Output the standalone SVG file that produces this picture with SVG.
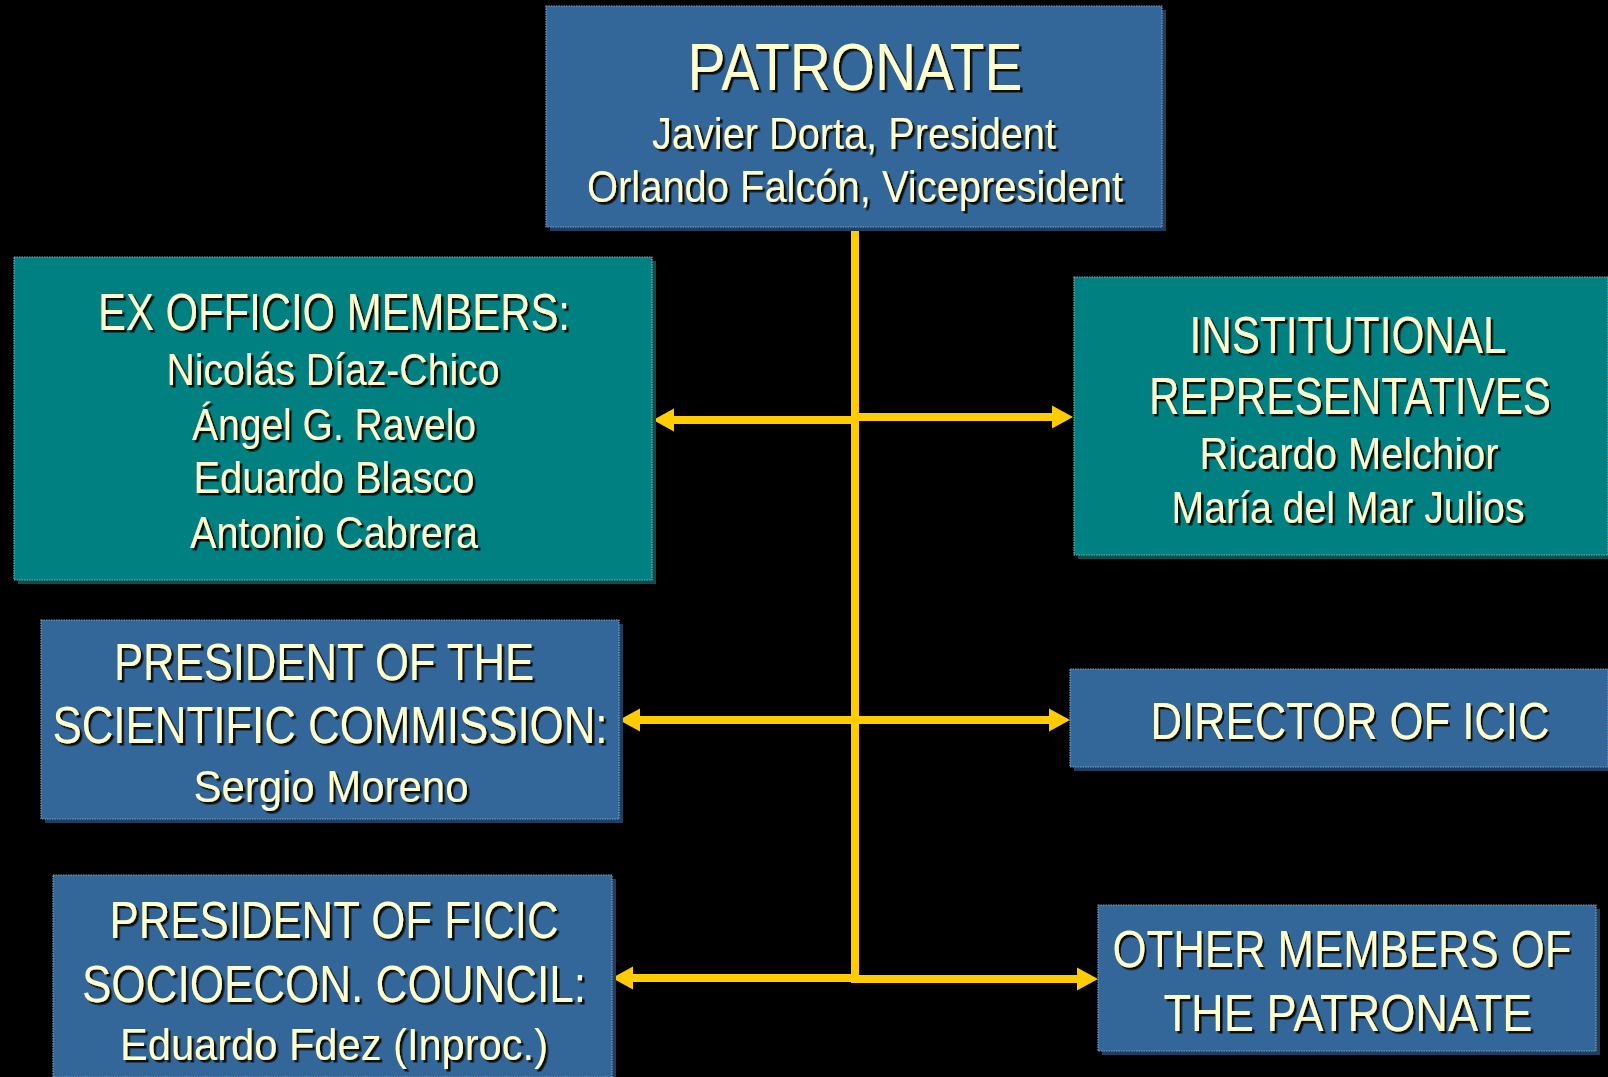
<svg xmlns="http://www.w3.org/2000/svg" width="1608" height="1077" viewBox="0 0 1608 1077">
<defs>
<style>
.bx-b{fill:#336699;stroke:#7f9fbf;stroke-width:1.2;stroke-dasharray:1.5 1}
.bx-t{fill:#008080;stroke:#7fb0b0;stroke-width:1.2;stroke-dasharray:1.5 1}
.sh-b{fill:#203f60}
.sh-t{fill:#0b4f4f}
text{font-family:"Liberation Sans Narrow","Liberation Sans",Arial,sans-serif;fill:#FFFFCC;text-anchor:middle;filter:url(#ts)}
.h{font-size:52px}
.n{font-size:45px}
.big{font-size:67px}
.ln{stroke:#FFCC00;stroke-width:8;fill:none}
</style>
<filter id="ts" x="-5%" y="-20%" width="110%" height="140%">
<feDropShadow dx="2.5" dy="2.5" stdDeviation="0.3" flood-color="#111111" flood-opacity="1"/>
</filter>
<marker id="ah" markerUnits="userSpaceOnUse" markerWidth="24" markerHeight="25" viewBox="0 0 24 25" refX="1" refY="12.5" orient="auto">
<path d="M0,1 L21,12.5 L0,24 z" fill="#FFCC00"/>
</marker>
</defs>
<rect width="1608" height="1077" fill="#000000"/>

<g id="connectors">
<line class="ln" x1="855" y1="227" x2="855" y2="982"/>
<line class="ln" x1="859" y1="420" x2="673" y2="420" marker-end="url(#ah)"/>
<line class="ln" x1="851" y1="417" x2="1053" y2="417" marker-end="url(#ah)"/>
<line class="ln" x1="859" y1="720" x2="639" y2="720" marker-end="url(#ah)"/>
<line class="ln" x1="851" y1="720" x2="1050" y2="720" marker-end="url(#ah)"/>
<line class="ln" x1="859" y1="978" x2="632" y2="978" marker-end="url(#ah)"/>
<line class="ln" x1="851" y1="979" x2="1078" y2="979" marker-end="url(#ah)"/>
</g>

<g id="patronate">
<rect class="sh-b" x="550" y="10" width="616" height="221"/>
<rect class="bx-b" x="546" y="6" width="616" height="221"/>
<text class="big" x="855" y="90" textLength="335" lengthAdjust="spacingAndGlyphs">PATRONATE</text>
<text class="n" x="854" y="149" textLength="404" lengthAdjust="spacingAndGlyphs">Javier Dorta, President</text>
<text class="n" x="855" y="202" textLength="536" lengthAdjust="spacingAndGlyphs">Orlando Falcón, Vicepresident</text>
</g>

<g id="ex-officio">
<rect class="sh-t" x="18" y="261" width="638" height="323"/>
<rect class="bx-t" x="14" y="257" width="638" height="323"/>
<text class="h" x="334" y="330" textLength="472" lengthAdjust="spacingAndGlyphs">EX OFFICIO MEMBERS:</text>
<text class="n" x="333" y="385" textLength="333" lengthAdjust="spacingAndGlyphs">Nicolás Díaz-Chico</text>
<text class="n" x="334" y="440" textLength="284" lengthAdjust="spacingAndGlyphs">Ángel G. Ravelo</text>
<text class="n" x="334" y="493" textLength="281" lengthAdjust="spacingAndGlyphs">Eduardo Blasco</text>
<text class="n" x="334" y="548" textLength="288" lengthAdjust="spacingAndGlyphs">Antonio Cabrera</text>
</g>

<g id="institutional">
<rect class="sh-t" x="1078" y="281" width="530" height="278"/>
<rect class="bx-t" x="1074" y="277" width="534" height="278"/>
<text class="h" x="1348" y="353" textLength="317" lengthAdjust="spacingAndGlyphs">INSTITUTIONAL</text>
<text class="h" transform="scale(0.8,1)" x="1687.5" y="414" textLength="502.5" lengthAdjust="spacingAndGlyphs">REPRESENTATIVES</text>
<text class="n" x="1349" y="469" textLength="299" lengthAdjust="spacingAndGlyphs">Ricardo Melchior</text>
<text class="n" x="1348" y="523" textLength="353" lengthAdjust="spacingAndGlyphs">María del Mar Julios</text>
</g>

<g id="president-scientific">
<rect class="sh-b" x="45" y="624" width="578" height="199"/>
<rect class="bx-b" x="41" y="620" width="578" height="199"/>
<text class="h" x="324" y="680" textLength="420" lengthAdjust="spacingAndGlyphs">PRESIDENT OF THE</text>
<text class="h" x="330" y="743" textLength="555" lengthAdjust="spacingAndGlyphs">SCIENTIFIC COMMISSION:</text>
<text class="n" x="331" y="802" textLength="275" lengthAdjust="spacingAndGlyphs">Sergio Moreno</text>
</g>

<g id="director">
<rect class="sh-b" x="1074" y="673" width="534" height="98"/>
<rect class="bx-b" x="1070" y="669" width="538" height="98"/>
<text class="h" transform="scale(0.8,1)" x="1687.5" y="739" textLength="498.75" lengthAdjust="spacingAndGlyphs">DIRECTOR OF ICIC</text>
</g>

<g id="president-ficic">
<rect class="sh-b" x="57" y="879" width="559" height="198"/>
<rect class="bx-b" x="53" y="875" width="559" height="202"/>
<text class="h" x="334" y="938" textLength="449" lengthAdjust="spacingAndGlyphs">PRESIDENT OF FICIC</text>
<text class="h" x="334" y="1002" textLength="504" lengthAdjust="spacingAndGlyphs">SOCIOECON. COUNCIL:</text>
<text class="n" x="334" y="1060" textLength="428" lengthAdjust="spacingAndGlyphs">Eduardo Fdez (Inproc.)</text>
</g>

<g id="other-members">
<rect class="sh-b" x="1102" y="909" width="498" height="146"/>
<rect class="bx-b" x="1098" y="905" width="498" height="146"/>
<text class="h" transform="scale(0.8,1)" x="1677.5" y="967" textLength="573.75" lengthAdjust="spacingAndGlyphs">OTHER MEMBERS OF</text>
<text class="h" x="1348" y="1031" textLength="369" lengthAdjust="spacingAndGlyphs">THE PATRONATE</text>
</g>
</svg>
